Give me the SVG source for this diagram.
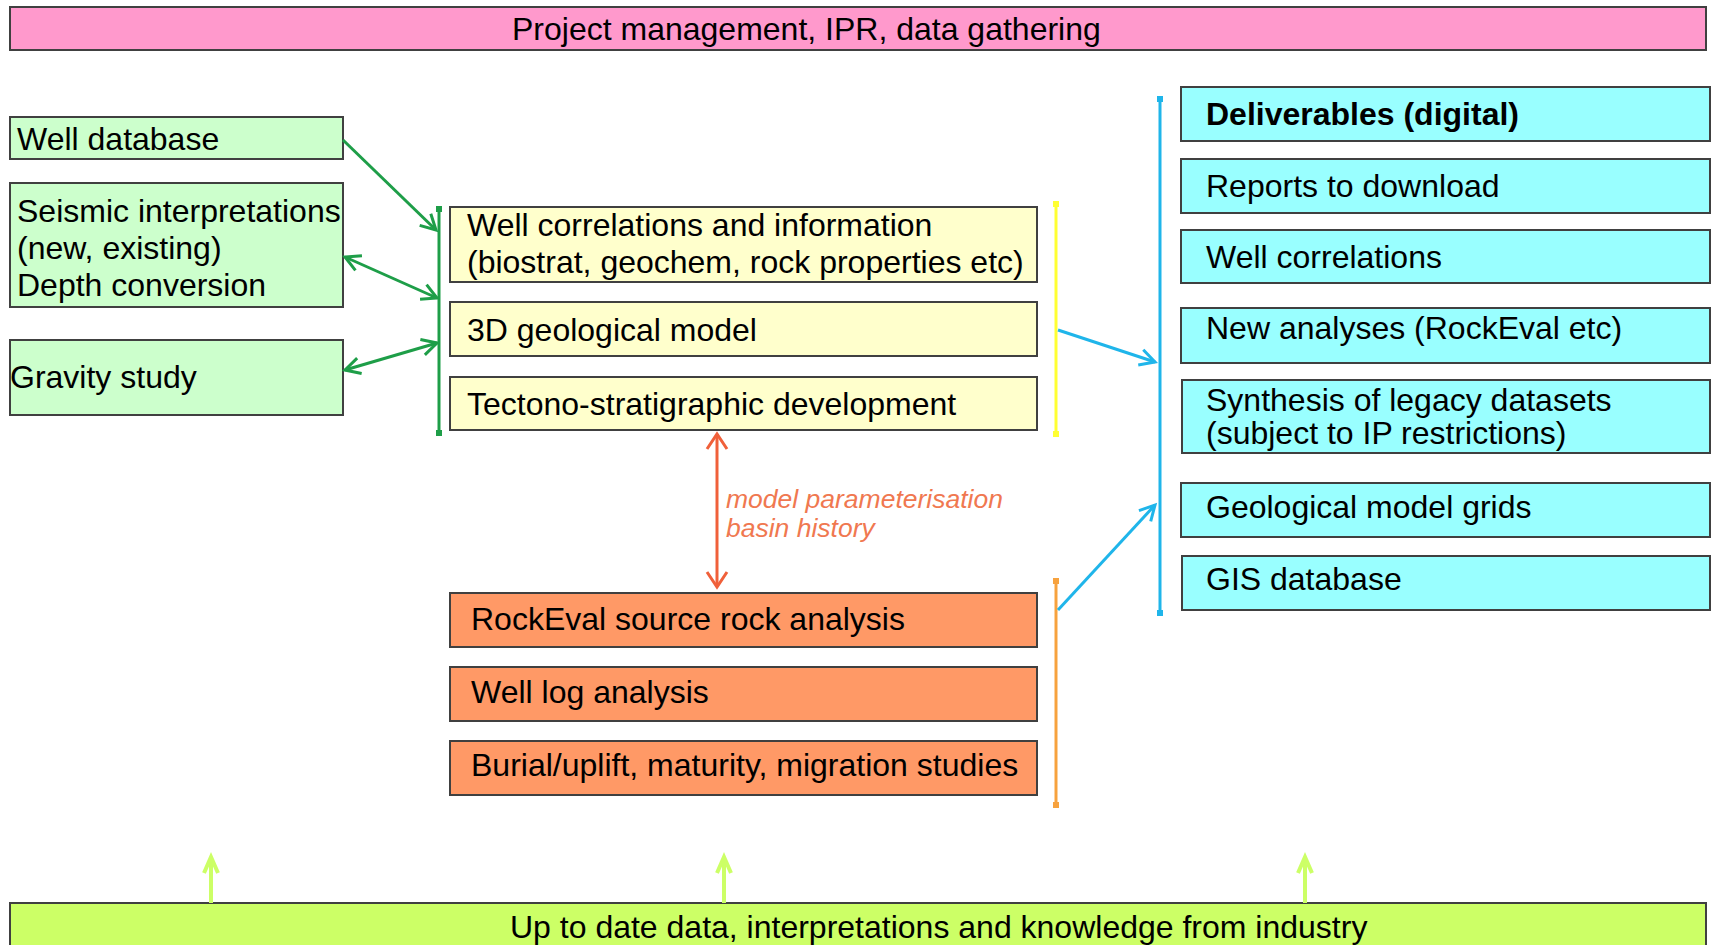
<svg xmlns="http://www.w3.org/2000/svg" width="1717" height="945" viewBox="0 0 1717 945">
<defs>
<style>
.t{font-family:"Liberation Sans",Arial,sans-serif;font-size:32px;fill:#000}
.i{font-family:"Liberation Sans",Arial,sans-serif;font-size:26.5px;font-style:italic;fill:#F07850}
.b{stroke:#404040;stroke-width:2}
.pink{fill:#FF99CC}.green{fill:#CCFFCC}.yellow{fill:#FFFFCC}.orange{fill:#FF9966}.cyan{fill:#99FFFF}.lime{fill:#CCFF66}
.c{fill:none;stroke-width:3}
</style>
<marker id="ag" markerUnits="userSpaceOnUse" markerWidth="30" markerHeight="30" refX="0" refY="0" orient="auto-start-reverse" overflow="visible"><path d="M-15,-8 L0,0 L-15,8" fill="none" stroke="#1E9E48" stroke-width="3"/></marker>
<marker id="ab" markerUnits="userSpaceOnUse" markerWidth="30" markerHeight="30" refX="0" refY="0" orient="auto" overflow="visible"><path d="M-15,-8 L0,0 L-15,8" fill="none" stroke="#1FB5EA" stroke-width="3"/></marker>
<marker id="ao" markerUnits="userSpaceOnUse" markerWidth="30" markerHeight="30" refX="0" refY="0" orient="auto-start-reverse" overflow="visible"><path d="M-15,-10 L0,0 L-15,10" fill="none" stroke="#F0603A" stroke-width="3"/></marker>
<marker id="al" markerUnits="userSpaceOnUse" markerWidth="30" markerHeight="30" refX="0" refY="0" orient="auto" overflow="visible"><path d="M-16,-7 L0,0 L-16,7" fill="none" stroke="#CCFF66" stroke-width="4"/></marker>
</defs>
<rect width="1717" height="945" fill="#FFFFFF"/>

<g id="top-bar"><rect class="pink b" x="10" y="7" width="1696" height="43"/><text class="t" x="512" y="40">Project management, IPR, data gathering</text></g>

<g id="well-database"><rect class="green b" x="10" y="117" width="333" height="42"/><text class="t" x="17" y="150">Well database</text></g>
<g id="seismic"><rect class="green b" x="10" y="183" width="333" height="124"/><text class="t" x="17" y="222">Seismic interpretations</text><text class="t" x="17" y="259">(new, existing)</text><text class="t" x="17" y="296">Depth conversion</text></g>
<g id="gravity"><rect class="green b" x="10" y="340" width="333" height="75"/><text class="t" x="10" y="388">Gravity study</text></g>

<g id="well-correlations-info"><rect class="yellow b" x="450" y="207" width="587" height="75"/><text class="t" x="467" y="236">Well correlations and information</text><text class="t" x="467" y="273">(biostrat, geochem, rock properties etc)</text></g>
<g id="geo-model-3d"><rect class="yellow b" x="450" y="302" width="587" height="54"/><text class="t" x="467" y="341">3D geological model</text></g>
<g id="tectono"><rect class="yellow b" x="450" y="377" width="587" height="53"/><text class="t" x="467" y="415">Tectono-stratigraphic development</text></g>

<g id="rockeval"><rect class="orange b" x="450" y="593" width="587" height="54"/><text class="t" x="471" y="630">RockEval source rock analysis</text></g>
<g id="well-log"><rect class="orange b" x="450" y="667" width="587" height="54"/><text class="t" x="471" y="703">Well log analysis</text></g>
<g id="burial"><rect class="orange b" x="450" y="741" width="587" height="54"/><text class="t" x="471" y="776">Burial/uplift, maturity, migration studies</text></g>

<g id="deliverables"><rect class="cyan b" x="1181" y="87" width="529" height="54"/><text class="t" x="1206" y="125" font-weight="bold">Deliverables (digital)</text></g>
<g id="reports"><rect class="cyan b" x="1181" y="159" width="529" height="54"/><text class="t" x="1206" y="197">Reports to download</text></g>
<g id="well-correlations"><rect class="cyan b" x="1181" y="230" width="529" height="53"/><text class="t" x="1206" y="268">Well correlations</text></g>
<g id="new-analyses"><rect class="cyan b" x="1181" y="308" width="529" height="55"/><text class="t" x="1206" y="339">New analyses (RockEval etc)</text></g>
<g id="synthesis"><rect class="cyan b" x="1182" y="380" width="528" height="73"/><text class="t" x="1206" y="411">Synthesis of legacy datasets</text><text class="t" x="1206" y="444">(subject to IP restrictions)</text></g>
<g id="grids"><rect class="cyan b" x="1181" y="483" width="529" height="54"/><text class="t" x="1206" y="518">Geological model grids</text></g>
<g id="gis"><rect class="cyan b" x="1182" y="556" width="528" height="54"/><text class="t" x="1206" y="590">GIS database</text></g>

<g id="bottom-bar"><rect class="lime b" x="10" y="903" width="1696" height="50"/><text class="t" x="510" y="938">Up to date data, interpretations and knowledge from industry</text></g>

<g id="connectors">
<line x1="439" y1="208" x2="439" y2="433" stroke="#1E9E48" stroke-width="3"/>
<rect x="436" y="206" width="6" height="6" fill="#1E9E48"/><rect x="436" y="430" width="6" height="6" fill="#1E9E48"/>
<line class="c" stroke="#1E9E48" x1="343" y1="140" x2="436" y2="230" marker-end="url(#ag)"/>
<line class="c" stroke="#1E9E48" x1="345" y1="257" x2="437" y2="298" marker-start="url(#ag)" marker-end="url(#ag)"/>
<line class="c" stroke="#1E9E48" x1="345" y1="370" x2="437" y2="343" marker-start="url(#ag)" marker-end="url(#ag)"/>

<line x1="1056" y1="203" x2="1056" y2="434" stroke="#FFFF33" stroke-width="3"/>
<rect x="1053" y="201" width="6" height="6" fill="#FFFF33"/><rect x="1053" y="431" width="6" height="6" fill="#FFFF33"/>

<line x1="1056" y1="580" x2="1056" y2="805" stroke="#F7A23E" stroke-width="3"/>
<rect x="1053" y="578" width="6" height="6" fill="#F7A23E"/><rect x="1053" y="802" width="6" height="6" fill="#F7A23E"/>

<line x1="1160" y1="98" x2="1160" y2="613" stroke="#1FB5EA" stroke-width="3"/>
<rect x="1157" y="96" width="6" height="6" fill="#1FB5EA"/><rect x="1157" y="610" width="6" height="6" fill="#1FB5EA"/>

<line class="c" stroke="#1FB5EA" x1="1058" y1="330" x2="1155" y2="362" marker-end="url(#ab)"/>
<line class="c" stroke="#1FB5EA" x1="1058" y1="610" x2="1155" y2="505" marker-end="url(#ab)"/>

<line class="c" stroke="#F0603A" x1="717" y1="434" x2="717" y2="587" marker-start="url(#ao)" marker-end="url(#ao)"/>

<line stroke="#CCFF66" stroke-width="4" x1="211" y1="903" x2="211" y2="857" marker-end="url(#al)"/>
<line stroke="#CCFF66" stroke-width="4" x1="724" y1="903" x2="724" y2="857" marker-end="url(#al)"/>
<line stroke="#CCFF66" stroke-width="4" x1="1305" y1="903" x2="1305" y2="857" marker-end="url(#al)"/>
</g>
<g id="label-orange"><text class="i" x="726" y="508">model parameterisation</text><text class="i" x="726" y="537">basin history</text></g>
</svg>
